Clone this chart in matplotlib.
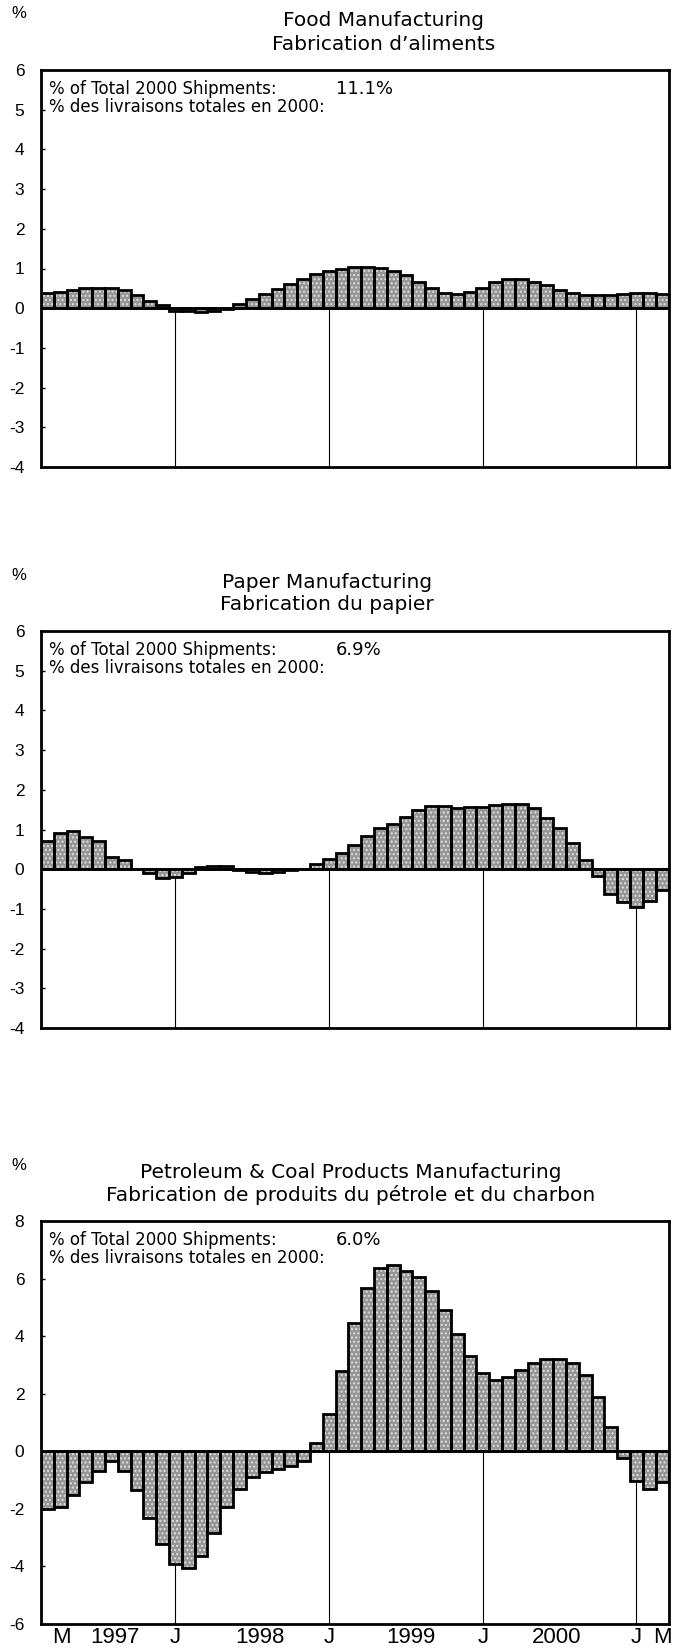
import matplotlib
matplotlib.use("Agg")
import matplotlib.pyplot as plt
import numpy as np

plt.rcParams['font.family'] = ['Liberation Sans', 'DejaVu Sans']
plt.rcParams['axes.unicode_minus'] = False

# Months: March 1997 .. March 2001 (49 monthly values)
food_titles = ["Food Manufacturing", "Fabrication d\u2019aliments"]
food_share = "11.1%"
food_values = [0.38, 0.42, 0.47, 0.50, 0.51, 0.52, 0.47, 0.32, 0.19, 0.07,
               -0.06, -0.08, -0.10, -0.08, -0.02, 0.10, 0.23, 0.36, 0.48, 0.60,
               0.73, 0.85, 0.94, 1.00, 1.04, 1.04, 1.02, 0.94, 0.83, 0.67,
               0.52, 0.38, 0.36, 0.40, 0.52, 0.67, 0.73, 0.73, 0.67, 0.58,
               0.46, 0.38, 0.32, 0.32, 0.32, 0.35, 0.38, 0.38, 0.35]

paper_titles = ["Paper Manufacturing", "Fabrication du papier"]
paper_share = "6.9%"
paper_values = [0.70, 0.90, 0.95, 0.80, 0.72, 0.30, 0.23, 0.00, -0.10, -0.22,
                -0.20, -0.10, 0.05, 0.08, 0.08, -0.03, -0.07, -0.10, -0.07, -0.03,
                0.00, 0.12, 0.25, 0.40, 0.60, 0.83, 1.03, 1.15, 1.32, 1.50,
                1.58, 1.58, 1.53, 1.56, 1.56, 1.62, 1.65, 1.64, 1.53, 1.28,
                1.03, 0.67, 0.23, -0.18, -0.62, -0.83, -0.94, -0.79, -0.52]

petro_titles = ["Petroleum & Coal Products Manufacturing",
                "Fabrication de produits du p\u00e9trole et du charbon"]
petro_share = "6.0%"
petro_values = [-2.01, -1.92, -1.51, -1.05, -0.70, -0.33, -0.70, -1.35, -2.33, -3.23,
                -3.93, -4.05, -3.64, -2.85, -1.95, -1.31, -0.91, -0.71, -0.62, -0.50,
                -0.35, 0.28, 1.30, 2.79, 4.44, 5.66, 6.36, 6.48, 6.28, 6.05,
                5.57, 4.91, 4.07, 3.30, 2.72, 2.49, 2.58, 2.81, 3.05, 3.22,
                3.22, 3.08, 2.64, 1.88, 0.84, -0.23, -1.02, -1.31, -1.08]

x_labels = ["M", "1997", "J", "1998", "J", "1999", "J", "2000", "J", "M"]
january_index = [10, 22, 34, 46]

share_en = "% of Total 2000 Shipments:"
share_fr = "% des livraisons totales en 2000:"

W, H = 678, 1648
fig = plt.figure(figsize=(W / 100, H / 100), dpi=100)

left = 41.0 / W
width = (668.5 - 41.0) / W
wide_font = ['DejaVu Sans']

panels = [
    (food_titles, food_share, food_values, (-4, 6), 1, 70.0, 467.0, 0.546),
    (paper_titles, paper_share, paper_values, (-4, 6), 1, 631.0, 1028.0, 0.456),
    (petro_titles, petro_share, petro_values, (-6, 8), 2, 1221.0, 1624.0, 0.493),
]

for k, (titles, share, vals, ylim, step, top_px, bot_px, cx) in enumerate(panels):
    hpx = bot_px - top_px
    ax = fig.add_axes([left, 1 - bot_px / H, width, hpx / H])
    x = np.arange(len(vals))
    # stippled fill
    ax.bar(x, vals, width=1.0, color='#959595', edgecolor='#e0e0e0',
           hatch='....', linewidth=0, zorder=2)
    # outlines
    ax.bar(x, vals, width=1.0, fill=False, edgecolor='black', linewidth=2.0,
           zorder=3)
    ax.vlines(january_index, ylim[0], 0, colors='black', linewidth=0.8, zorder=1)
    ax.axhline(0, color='black', linewidth=1.8, zorder=4)
    ax.set_xlim(-0.5, len(vals) - 0.5)
    ax.set_ylim(*ylim)
    ax.set_yticks(np.arange(ylim[0], ylim[1] + 0.1, step))
    ax.tick_params(axis='y', direction='in', length=3, width=1, labelsize=12.5,
                   pad=12)
    for sp in ax.spines.values():
        sp.set_linewidth(2.0)
    if k == 2:
        ax.set_xticks([1.1, 5.3, 10, 16.6, 22, 28.4, 34, 39.8, 46, 48])
        ax.set_xticklabels(x_labels, fontsize=16)
        ax.tick_params(axis='x', length=0, pad=2)
    else:
        ax.set_xticks([])
    ax.text(0.013, 1 - 19 / hpx, share_en, transform=ax.transAxes, fontsize=12,
            va='center', ha='left', family=wide_font)
    ax.text(0.013, 1 - 37 / hpx, share_fr, transform=ax.transAxes, fontsize=12,
            va='center', ha='left', family=wide_font)
    ax.text(0.47, 1 - 19 / hpx, share, transform=ax.transAxes, fontsize=13,
            va='center', ha='left', family=wide_font)
    ax.text(cx, 1 + 49 / hpx, titles[0], transform=ax.transAxes,
            fontsize=14.5, ha='center', va='center', family=wide_font)
    ax.text(cx, 1 + 26 / hpx, titles[1], transform=ax.transAxes,
            fontsize=14.5, ha='center', va='center', family=wide_font)
    fig.text(19 / W, 1 - (top_px - 56) / H, "%", fontsize=12,
             ha='center', va='center')

fig.savefig("out.png", dpi=100)
